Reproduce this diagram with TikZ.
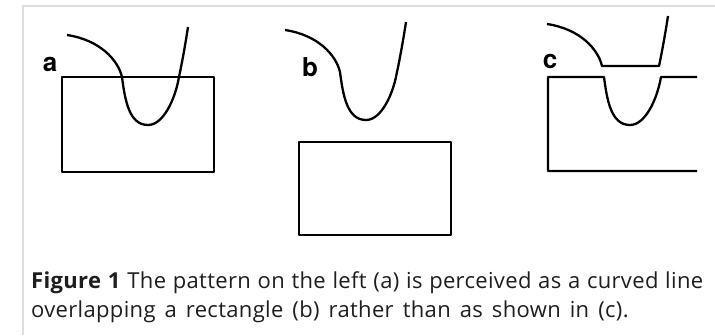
\documentclass[tikz,border=0pt]{standalone}
\usepackage{fontspec}
\setmainfont{Open Sans}[LetterSpace=1.5, WordSpace={1.5,1,1.3}]
\setsansfont{TeX Gyre Heros}
\usepackage{tikz}
\usetikzlibrary{positioning}
\definecolor{framegray}{RGB}{218,224,224}
\definecolor{captext}{RGB}{30,30,30}

\begin{document}
\begin{tikzpicture}[
    x=1pt, y=-1pt,
    outline/.style={draw=black, line width=2.3pt, line join=round},
    panel/.style={font=\sffamily\bfseries\fontsize{26}{26}\selectfont, anchor=base, inner sep=0pt},
    caption/.style={font=\fontsize{22}{29}\selectfont, text=captext, text width=672pt, align=justify, inner sep=0pt},
    frameline/.style={draw=framegray, line width=1.4pt}
]
\useasboundingbox (0,0) rectangle (715,335);
\draw[frameline] (23,335) -- (23,6) -- (715,6);
% (a) curve over rectangle
\draw[outline] (62,77) rectangle (214,172);
\draw[outline] (67,35) .. controls (100,40) and (118,60) .. (122,77)
    .. controls (125,100) and (129,125) .. (148,125)
    .. controls (163,125) and (175,100) .. (179,77)
    .. controls (183,58) and (186,40) .. (188,27);
% (b) the two parts apart
\draw[outline, shift={(218,-5)}] (67,35) .. controls (100,40) and (118,60) .. (122,77)
    .. controls (125,100) and (129,125) .. (148,125)
    .. controls (163,125) and (175,100) .. (179,77)
    .. controls (183,58) and (186,40) .. (188,27);
\draw[outline] (299,142) rectangle (451,235);
% (c) the other reading
\draw[outline, shift={(480,-11)}] (67,35) .. controls (100,40) and (118,60) .. (122,77)
    -- (179,77) .. controls (183,58) and (186,40) .. (188,27);
\draw[outline] (697,171) -- (548,171) -- (548,77) -- (604,77)
    .. controls (607,100) and (611,125) .. (630,125)
    .. controls (645,125) and (657,100) .. (661,77) -- (697,77);
\node[panel] (laba) at (50,71) {a};
\node[panel] (labb) at (310,76) {b};
\node[panel] (labc) at (550,68) {c};
\node[caption, anchor=base west] (cap) at (31,288) {\textbf{Figure 1} The pattern on the left (a) is perceived as a curved line\linebreak overlapping a rectangle (b) rather than as shown in (c).};
\end{tikzpicture}
\end{document}
